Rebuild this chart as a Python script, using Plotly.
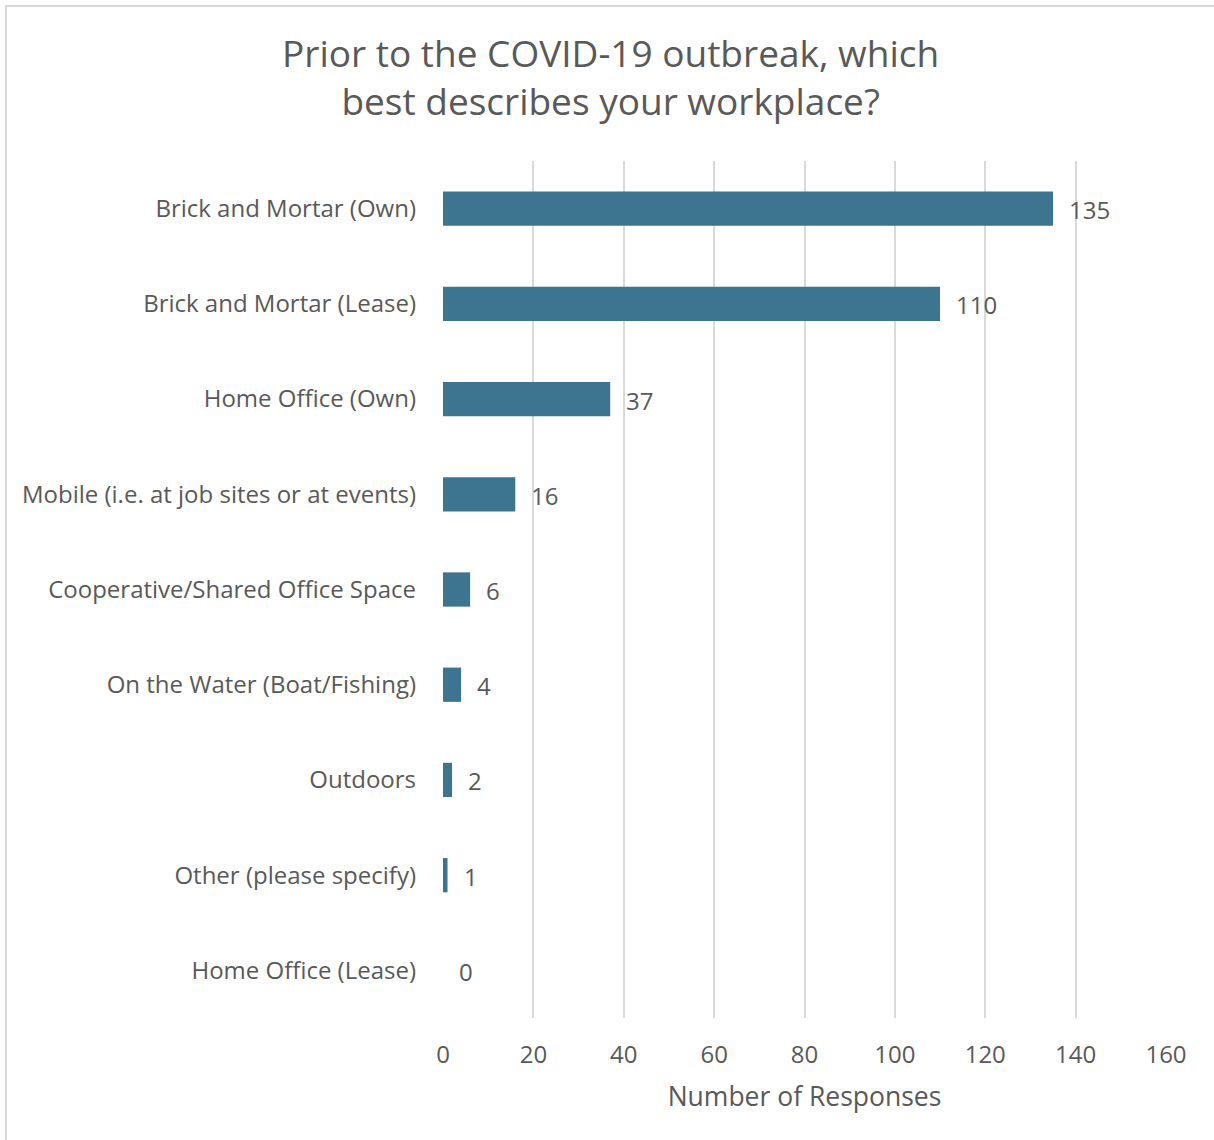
import plotly.graph_objects as go

categories = [
    "Brick and Mortar (Own)",
    "Brick and Mortar (Lease)",
    "Home Office (Own)",
    "Mobile (i.e. at job sites or at events)",
    "Cooperative/Shared Office Space",
    "On the Water (Boat/Fishing)",
    "Outdoors",
    "Other (please specify)",
    "Home Office (Lease)",
]
values = [135, 110, 37, 16, 6, 4, 2, 1, 0]
x_ticks = [0, 20, 40, 60, 80, 100, 120, 140, 160]

FONT = "Open Sans"
GRAY = "#595959"
BAR = "#3d7590"

fig = go.Figure()
fig.add_trace(go.Bar(
    x=values, y=categories, orientation="h",
    marker=dict(color=BAR, line=dict(width=0)),
    width=0.36, hoverinfo="x+y",
))

for c, v in zip(categories, values):
    fig.add_annotation(x=v, y=c, text=str(v), showarrow=False,
                       xanchor="left", yanchor="middle", xshift=14, yshift=-1,
                       font=dict(family=FONT, size=24, color=GRAY))

fig.update_layout(
    width=1214, height=1140,
    paper_bgcolor="white", plot_bgcolor="white",
    margin=dict(l=443, r=48, t=161, b=122, autoexpand=False),
    showlegend=False,
    title=dict(text="Prior to the COVID-19 outbreak, which<br>best describes your workplace?",
               x=0.503, xanchor="center", y=1 - 66.5/1140, yanchor="middle",
               font=dict(family=FONT, size=37, color=GRAY)),
    font=dict(family=FONT, color=GRAY),
    xaxis=dict(range=[0, 160], tickvals=x_ticks, showgrid=True,
               gridcolor="#d9d9d9", gridwidth=1.5, zeroline=False,
               showline=False, ticks="", ticklabelstandoff=20,
               tickfont=dict(family=FONT, size=24, color=GRAY),
               title=dict(text="Number of Responses", standoff=18,
                          font=dict(family=FONT, size=26.5, color=GRAY))),
    yaxis=dict(autorange="reversed", showgrid=False, zeroline=False,
               showline=False, ticks="", ticklabelstandoff=26,
               tickfont=dict(family=FONT, size=24, color=GRAY)),
)

fig.add_shape(type="rect", xref="paper", yref="paper",
              x0=(6 - 443) / 723, x1=1.2, y0=-0.3, y1=1 + (161 - 6) / 857,
              line=dict(color="#d9d9d9", width=2), fillcolor="rgba(0,0,0,0)",
              layer="below")

fig.write_html("out.html", config={"displayModeBar": False},
               post_script="document.body.style.margin='0';")
